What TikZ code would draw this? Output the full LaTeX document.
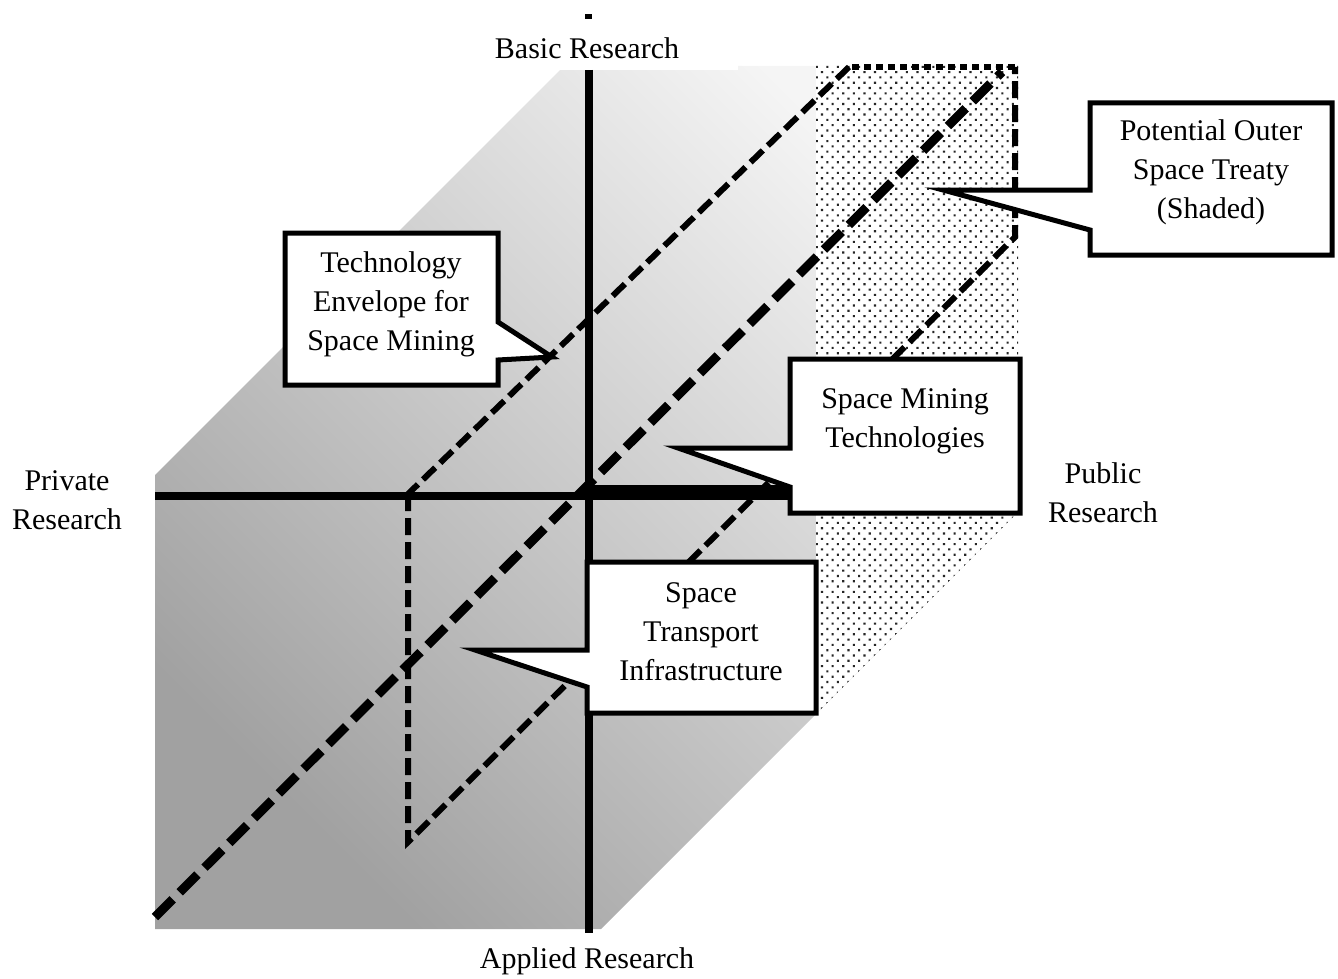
\documentclass[tikz,border=0pt]{standalone}
\usepackage{fontspec}
\setmainfont{Liberation Serif}
\usetikzlibrary{patterns.meta}

\begin{document}
\begin{tikzpicture}[x=1pt,y=-1pt,
  lbl/.style={font=\fontsize{30}{39}\selectfont, align=center, inner sep=0pt},
  callout/.style={draw=black, fill=white, line width=5pt, line join=miter},
  axisline/.style={line width=8pt},
  envelope/.style={line width=6pt, dash pattern=on 17pt off 7pt},
  envtop/.style={line width=6.5pt, dash pattern=on 7pt off 5pt},
  mainline/.style={line width=9pt, dash pattern=on 25pt off 10pt},
  shaded/.style={pattern={Dots[distance=7.5pt, radius=1.5pt, angle=45]}, pattern color=black!85},
]
\useasboundingbox (0,0) rectangle (1338,979);

% research space (gradient block)
\shade[top color=black!4, bottom color=black!37, shading angle=-45]
  (155,929) -- (155,475) -- (564,66) -- (1018,66) -- (1018,512) -- (601,929) -- cycle;

% treaty zone (dotted)
\fill[white] (816,66) -- (1018,66) -- (1018,512) -- (816,714) -- cycle;
\fill[shaded] (816,66) -- (1018,66) -- (1018,512) -- (816,714) -- cycle;

% clear strip behind the top label
\fill[white] (560,62) rectangle (738,70.5);

% axes
\coordinate (vtop) at (589,70);
\coordinate (vbot) at (589,933);
\coordinate (hleft) at (155,496);
\coordinate (hright) at (790,496);
\fill (585,14) rectangle (592,19);
\draw[axisline] (vtop) -- (vbot);
\draw[line width=8pt] (hleft) -- (hright);
\fill (583,485) rectangle (790,500);

% technology envelope
\coordinate (e1) at (408,494);
\coordinate (e2) at (408,842);
\coordinate (e3) at (1015,237);
\coordinate (e4) at (1015,67);
\coordinate (e5) at (849,67);
\draw[envelope] (e1) -- (e2) -- (e3) -- (e4);
\draw[envtop] (e4) -- (e5);
\draw[envelope] (e5) -- (e1);

% main diagonal
\coordinate (d1) at (155,917);
\coordinate (d2) at (1002,72);
\draw[mainline] (d1) -- (d2);

% callouts
\draw[callout] (285,233) -- (498,233) -- (498,322) -- (552,357) -- (498,360) -- (498,385) -- (285,385) -- cycle;
\node[lbl] (env) at (391,304) {Technology\\Envelope for\\Space Mining};

\draw[callout] (1090,103) -- (1332,103) -- (1332,255) -- (1090,255) -- (1090,230) -- (943,190) -- (1090,190) -- cycle;
\node[lbl] (treaty) at (1211,172) {Potential Outer\\Space Treaty\\(Shaded)};

\draw[callout] (790,359) -- (1020,359) -- (1020,513) -- (790,513) -- (790,487) -- (678,448) -- (790,448) -- cycle;
\node[lbl] (mining) at (905,421) {Space Mining\\Technologies};

\draw[callout] (587,562) -- (816,562) -- (816,713) -- (587,713) -- (587,687) -- (475,650) -- (587,650) -- cycle;
\node[lbl] (transport) at (701,632) {Space\\Transport\\Infrastructure};

% axis labels
\node[lbl] (basic) at (587,48) {Basic Research};
\node[lbl] (private) at (67,500) {Private\\Research};
\node[lbl] (public) at (1103,493) {Public\\Research};
\node[lbl] (applied) at (587,961) {Applied Research};
\end{tikzpicture}
\end{document}
